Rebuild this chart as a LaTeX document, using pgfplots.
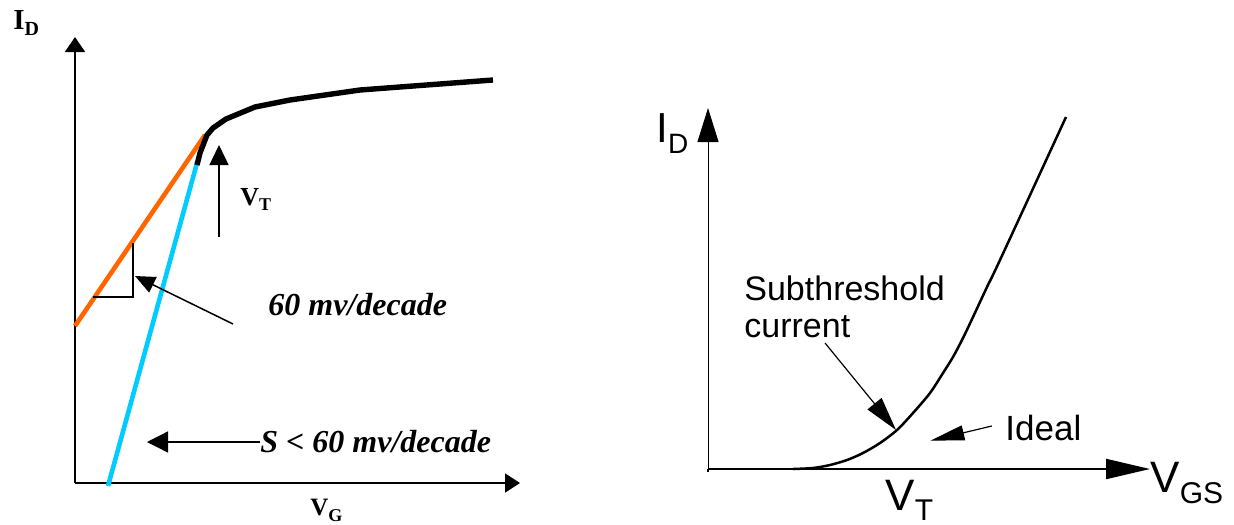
\documentclass[border=0pt]{standalone}
\usepackage{fontspec}
\setmainfont{Liberation Serif}
\newfontfamily\ari{Liberation Sans}
\usepackage{pgfplots}
\pgfplotsset{compat=1.18}
\usetikzlibrary{arrows.meta}
\definecolor{dorange}{HTML}{FF6600}
\definecolor{dcyan}{HTML}{00CCFF}
\begin{document}
\begin{tikzpicture}
\useasboundingbox (0,0) rectangle (617pt,-262pt);
% ---------------- left panel ----------------
\begin{axis}[
  at={(37.5pt,-241.5pt)}, anchor=south west, scale only axis,
  width=222.5pt, height=223pt,
  xmin=0, xmax=445, ymin=0, ymax=446,
  axis x line=bottom, axis y line=left,
  x axis line style={line width=0.9pt, -{Triangle[length=7.5pt,width=9.5pt]}},
  y axis line style={line width=0.9pt, -{Triangle[length=7.5pt,width=10pt]}},
  ticks=none, clip=false,
]
\addplot[dorange, line width=2.3pt] coordinates {(0,157) (130,348)};
\addplot[dcyan, line width=2.3pt] coordinates {(33,-3) (122,320)};
\addplot[black, line width=2.7pt, line join=round] coordinates {
  (122,318) (125,330) (132,348) (138,355) (151,364) (180,376) (215,383) (285,393) (418,403)};
\addplot[black, line width=0.65pt] coordinates {(18,186) (58,186) (58,240)};
\draw[line width=0.75pt, -{Triangle[length=10pt,width=8.5pt]}] (axis cs:158,159) -- (axis cs:60,207);
\draw[line width=0.65pt, -{Triangle[length=10pt,width=9.5pt]}] (axis cs:144,246) -- (axis cs:144,338);
\draw[line width=0.65pt, -{Triangle[length=10.5pt,width=10.5pt]}] (axis cs:185,41) -- (axis cs:72,41);
\node[anchor=base west, inner sep=0] at (axis cs:-62,454)
  {\fontsize{14.5}{16}\selectfont\bfseries I\raisebox{-3pt}{\fontsize{10}{11}\selectfont D}};
\node[anchor=base west, inner sep=0] at (axis cs:165,278)
  {\fontsize{13}{15}\selectfont\bfseries V\raisebox{-2.5pt}{\fontsize{9}{10}\selectfont T}};
\node[anchor=base west, inner sep=0] at (axis cs:193,168)
  {\fontsize{16}{18}\selectfont\bfseries\itshape 60 mv/decade};
\node[anchor=base west, inner sep=0] at (axis cs:185,31)
  {\fontsize{16}{18}\selectfont\bfseries\itshape S < 60 mv/decade};
\node[anchor=base west, inner sep=0] at (axis cs:235,-32)
  {\fontsize{12.5}{14}\selectfont\bfseries V\raisebox{-3pt}{\fontsize{9}{10}\selectfont G}};
\end{axis}
% ---------------- right panel ----------------
\begin{axis}[
  at={(354pt,-234.5pt)}, anchor=south west, scale only axis,
  width=221pt, height=180.5pt,
  xmin=0, xmax=442, ymin=0, ymax=361,
  axis x line=bottom, axis y line=left,
  x axis line style={line width=1pt, -{Triangle[length=22pt,width=10pt]}},
  y axis line style={line width=0.5pt, -{Triangle[length=17pt,width=10.5pt]}},
  ticks=none, clip=false,
]
\addplot[black, line width=1.25pt, smooth] coordinates {
  (85,0) (105,1) (122,4) (139,9) (155,16) (172,26) (189,39) (205,56) (222,76)
  (235,96) (245,112) (255,131) (265,152) (279,182) (292,209) (358,352)};
\draw[line width=0.6pt] (axis cs:0,0) -- (axis cs:0,-2.5);
\draw[line width=0.6pt, -{Triangle[length=17pt,width=9pt]}] (axis cs:117,126) -- (axis cs:188,39);
\draw[line width=0.6pt, -{Triangle[length=17pt,width=7.5pt]}] (axis cs:283.8,43) -- (axis cs:222.4,28.3);
\node[anchor=base west, inner sep=0] at (axis cs:-52,327)
  {\ari\fontsize{21}{24}\selectfont I\raisebox{-5.8pt}{\fontsize{14}{16}\selectfont D}};
\node[anchor=base west, inner sep=0] at (axis cs:36,169)
  {\ari\fontsize{17}{20}\selectfont Subthreshold};
\node[anchor=base west, inner sep=0] at (axis cs:36,132)
  {\ari\fontsize{17}{20}\selectfont current};
\node[anchor=base west, inner sep=0] at (axis cs:297,29)
  {\ari\fontsize{17.5}{20}\selectfont Ideal};
\node[anchor=base west, inner sep=0] at (axis cs:442,-23)
  {\ari\fontsize{22}{25}\selectfont V\raisebox{-5.5pt}{\fontsize{15}{17}\selectfont GS}};
\node[anchor=base west, inner sep=0] at (axis cs:177,-41)
  {\ari\fontsize{22}{25}\selectfont V\raisebox{-5pt}{\fontsize{15}{17}\selectfont T}};
\end{axis}
\end{tikzpicture}
\end{document}
